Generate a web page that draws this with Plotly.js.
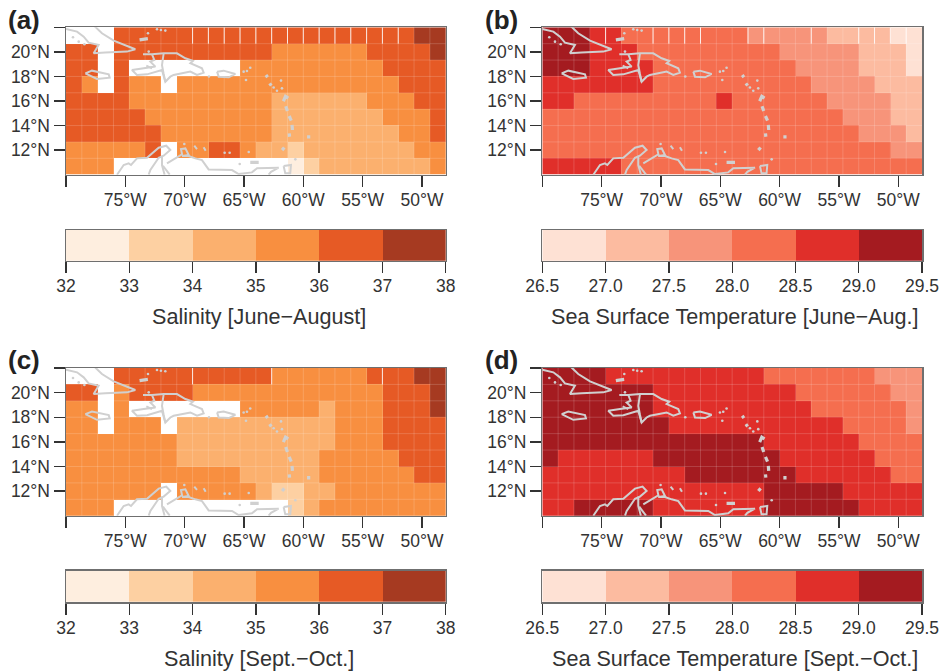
<!DOCTYPE html>
<html><head><meta charset="utf-8">
<script src="https://cdn.plot.ly/plotly-3.0.1.min.js"></script>
<style>html,body{margin:0;padding:0;background:#fff}</style></head>
<body><div id="chart" style="width:941px;height:671px"></div>
<script>
const N = null;
const salinityJJA = [
[N,N,N,36.5,36.5,36.5,36.5,36.5,36.5,36.5,36.5,36.5,36.5,36.5,36.5,36.5,36.5,36.5,36.5,36.5,36.5,36.5,37.5,37.5],
[36.5,36.5,N,36.5,36.5,36.5,36.5,36.5,36.5,36.5,36.5,36.5,36.5,35.5,35.5,35.5,35.5,35.5,35.5,36.5,36.5,36.5,36.5,37.5],
[36.5,36.5,N,36.5,N,N,N,N,N,N,N,35.5,35.5,35.5,35.5,35.5,35.5,35.5,35.5,35.5,36.5,36.5,36.5,36.5],
[36.5,35.5,N,36.5,35.5,35.5,N,35.5,35.5,35.5,35.5,35.5,35.5,35.5,35.5,35.5,35.5,35.5,35.5,35.5,35.5,36.5,36.5,36.5],
[36.5,36.5,36.5,36.5,35.5,35.5,35.5,35.5,35.5,35.5,35.5,35.5,35.5,34.5,34.5,34.5,34.5,34.5,34.5,35.5,35.5,35.5,36.5,36.5],
[36.5,36.5,36.5,36.5,36.5,35.5,35.5,35.5,35.5,35.5,35.5,35.5,35.5,34.5,34.5,34.5,34.5,34.5,34.5,34.5,35.5,35.5,35.5,36.5],
[36.5,36.5,36.5,36.5,36.5,36.5,35.5,35.5,35.5,35.5,35.5,35.5,35.5,34.5,34.5,34.5,34.5,34.5,34.5,34.5,34.5,35.5,35.5,36.5],
[35.5,35.5,35.5,35.5,35.5,36.5,N,35.5,35.5,36.5,36.5,35.5,34.5,34.5,33.5,34.5,34.5,34.5,34.5,34.5,34.5,34.5,35.5,35.5],
[35.5,35.5,35.5,N,N,N,N,N,N,N,N,N,N,N,32.5,33.5,34.5,34.5,34.5,34.5,34.5,34.5,34.5,35.5]
];
const salinitySO = [
[N,N,N,36.5,36.5,36.5,36.5,36.5,36.5,36.5,36.5,36.5,36.5,35.5,35.5,35.5,35.5,35.5,35.5,36.5,36.5,36.5,37.5,37.5],
[36.5,36.5,N,35.5,36.5,36.5,36.5,36.5,35.5,35.5,35.5,35.5,35.5,35.5,35.5,35.5,35.5,35.5,35.5,35.5,36.5,36.5,36.5,37.5],
[35.5,35.5,N,35.5,N,N,N,N,N,N,N,35.5,35.5,35.5,35.5,35.5,34.5,35.5,35.5,35.5,36.5,36.5,36.5,37.5],
[35.5,35.5,N,35.5,35.5,35.5,N,34.5,34.5,34.5,34.5,34.5,34.5,34.5,34.5,34.5,34.5,35.5,35.5,35.5,36.5,36.5,36.5,36.5],
[35.5,35.5,35.5,35.5,35.5,35.5,35.5,34.5,34.5,34.5,34.5,34.5,34.5,34.5,34.5,34.5,34.5,35.5,35.5,35.5,36.5,36.5,36.5,36.5],
[35.5,35.5,35.5,35.5,35.5,35.5,35.5,34.5,34.5,34.5,34.5,34.5,34.5,34.5,34.5,34.5,35.5,35.5,35.5,35.5,35.5,36.5,36.5,36.5],
[35.5,35.5,35.5,35.5,35.5,35.5,35.5,35.5,35.5,35.5,35.5,34.5,34.5,34.5,34.5,34.5,35.5,35.5,35.5,35.5,35.5,35.5,36.5,36.5],
[35.5,35.5,35.5,35.5,35.5,35.5,N,35.5,35.5,35.5,35.5,35.5,34.5,33.5,33.5,34.5,34.5,35.5,35.5,35.5,35.5,35.5,35.5,35.5],
[35.5,35.5,35.5,N,N,N,N,N,N,N,N,N,N,N,33.5,34.5,35.5,35.5,35.5,35.5,35.5,35.5,35.5,35.5]
];
const sstJJA = [
[29.25,29.25,29.25,28.75,28.75,28.25,28.25,28.25,28.25,28.25,28.25,28.25,28.25,27.75,27.75,27.75,27.75,27.75,27.25,27.25,27.25,27.25,26.75,26.75],
[29.25,29.25,29.25,28.75,28.75,28.75,28.25,28.25,28.25,28.25,28.25,28.25,28.25,28.25,28.25,27.75,27.75,27.75,27.75,27.75,27.25,27.25,27.25,26.75],
[29.25,29.25,29.25,28.75,28.75,28.75,28.75,28.25,28.25,28.25,28.25,28.25,28.25,28.25,28.25,28.25,27.75,27.75,27.75,27.75,27.25,27.25,27.25,26.75],
[28.75,28.75,28.75,28.75,28.75,28.75,28.75,28.25,28.25,28.25,28.25,28.25,28.25,28.25,28.25,28.25,28.25,27.75,27.75,27.75,27.75,27.25,27.25,27.25],
[28.75,28.75,28.25,28.25,28.25,28.25,28.25,28.25,28.25,28.25,28.25,28.75,28.25,28.25,28.25,28.25,28.25,28.25,27.75,27.75,27.75,27.75,27.25,27.25],
[28.25,28.25,28.25,28.25,28.25,28.25,28.25,28.25,28.25,28.25,28.25,28.25,28.25,28.25,28.25,28.25,28.25,28.25,28.25,27.75,27.75,27.75,27.25,27.25],
[28.25,28.25,28.25,28.25,28.25,28.25,28.25,28.25,28.25,28.25,28.25,28.25,28.25,28.25,28.25,28.25,28.25,28.25,28.25,28.25,27.75,27.75,27.75,27.25],
[28.25,28.25,28.25,28.25,28.25,28.25,28.25,28.25,28.25,28.25,28.25,28.25,28.25,28.25,28.25,28.25,28.25,28.25,28.25,28.25,28.25,28.25,27.75,27.75],
[28.75,28.75,28.75,28.75,28.75,28.25,28.25,28.25,28.25,28.25,28.25,28.25,28.25,28.25,28.25,28.25,28.25,28.25,28.25,28.25,28.25,28.25,28.25,28.25]
];
const sstSO = [
[29.25,29.25,29.25,29.25,28.75,28.75,28.75,28.75,28.75,28.75,28.75,28.75,28.75,28.75,28.25,28.25,28.25,28.25,28.25,28.25,28.25,27.75,27.75,27.75],
[29.25,29.25,29.25,29.25,29.25,29.25,29.25,28.75,28.75,28.75,28.75,28.75,28.75,28.75,28.75,28.75,28.25,28.25,28.25,28.25,28.25,28.25,27.75,27.75],
[29.25,29.25,29.25,29.25,29.25,29.25,29.25,28.75,28.75,28.75,28.75,28.75,28.75,28.75,28.75,28.75,28.75,28.25,28.25,28.25,28.25,28.25,28.25,27.75],
[29.25,29.25,29.25,29.25,29.25,29.25,29.25,29.25,28.75,28.75,28.75,28.75,28.75,28.75,28.75,28.75,28.75,28.75,28.75,28.25,28.25,28.25,28.25,27.75],
[29.25,29.25,29.25,29.25,29.25,29.25,29.25,29.25,29.25,29.25,29.25,29.25,29.25,29.25,28.75,28.75,28.75,28.75,28.75,28.75,28.25,28.25,28.25,28.25],
[29.25,28.75,28.75,28.75,28.75,28.75,28.75,29.25,29.25,29.25,29.25,29.25,29.25,29.25,29.25,28.75,28.75,28.75,28.75,28.75,28.75,28.25,28.25,28.25],
[28.75,28.75,28.75,28.75,28.75,28.75,28.75,28.75,28.75,29.25,29.25,29.25,29.25,29.25,29.25,29.25,28.75,28.75,28.75,28.75,28.75,28.75,28.25,28.25],
[28.75,28.75,28.75,28.75,28.75,28.75,28.75,28.75,28.75,28.75,28.75,28.75,28.75,28.75,29.25,29.25,29.25,29.25,29.25,28.75,28.75,28.75,28.75,28.75],
[28.75,28.75,29.25,29.25,29.25,29.25,29.25,28.75,28.75,28.75,28.75,28.75,28.75,28.75,29.25,29.25,29.25,29.25,29.25,29.25,28.75,28.75,28.75,28.75]
];
const orangeColors = ['#FEEEDF','#FDD0A2','#FBB06E','#F88F40','#E65A25','#A63A21'];
const redColors = ['#FEE1D4','#FCBBA0','#F7947A','#F56E4F','#E02F2A','#A41B20'];
const salinityTicks = [32,33,34,35,36,37,38];
const sstTicks = [26.5,27,27.5,28,28.5,29,29.5];
const lonTicks = [-80,-75,-70,-65,-60,-55,-50];
const lonLabels = ['','75°W','70°W','65°W','60°W','55°W','50°W'];
const latTicks = [12,14,16,18,20,22];
const latLabels = ['12°N','14°N','16°N','18°N','20°N',''];
const panelLetters = ['(a)','(b)','(c)','(d)'];
const barTitles = ['Salinity [June\u2212August]','Sea Surface Temperature [June\u2212Aug.]','Salinity [Sept.\u2212Oct.]','Sea Surface Temperature [Sept.\u2212Oct.]'];
// column edges whose seam reads bright white in the top row of each panel
const brightSeams = [
 [8,9,10,11,12,13,14,15,16,17,18,19,20,21],
 [4,7,8,9,10,13,14,17,20,21,22,23],
 [8,13,20],
 []
];
// coastlines, lon / lat
const coastLines = [
 [[-80,-79.07,-78.51,-78.09,-77.25,-77.67,-76.69,-74.86,-74.16,-75.56,-75.98,-76.97,-77.39,-77.6],[21.86,21.65,21.24,20.75,20.56,19.88,19.94,20.02,20.21,20.75,20.91,21.51,21.92,22.1]],
 [[-78.37,-77.81,-76.40,-76.32,-77.39,-78.37],[18.25,18.47,18.17,17.90,17.79,18.25]],
 [[-73.51,-72.75,-71.77,-70.65,-69.94,-69.30,-69.52,-68.54,-68.40,-68.96,-69.52,-70.51,-70.93,-71.21,-71.63,-71.91,-73.17,-74.02,-74.44,-73.45,-72.47,-72.89,-72.56,-72.75],[19.80,19.80,19.88,19.88,19.48,19.26,19.07,18.66,18.31,18.12,18.39,18.20,18.12,17.98,17.57,18.52,18.17,18.12,18.52,18.66,18.80,19.20,19.34,19.80]],
 [[-71.77,-71.91,-71.77,-71.63],[19.88,18.92,18.2,17.57]],
 [[-73.23,-72.75],[18.88,18.66]],
 [[-67.27,-66.72,-65.73,-66.28,-67.13,-67.27],[18.39,18.47,18.2,17.93,17.98,18.39]],
 [[-75.70,-75.14,-74.72,-74.52,-74.02,-73.17,-72.19,-71.55,-71.21,-71.77,-72.19,-72.89,-73.03],[10.0,10.79,10.92,10.79,11.33,11.38,12.20,12.36,12.01,11.55,11.38,10.38,10.0]],
 [[-71.91,-71.91,-71.69],[11.55,10.79,10.0]],
 [[-71.83,-71.26],[10.73,10.0]],
 [[-71.49,-70.51,-70.22,-70.31,-69.94,-69.66,-70.22],[10.92,11.47,11.66,12.09,12.14,11.6,11.52]],
 [[-70.22,-69.66,-69.10,-68.54,-67.98,-66.01,-65.45,-64.33,-63.90,-62.08,-62.72,-62.92],[11.52,11.52,11.33,11.19,10.43,10.38,10.05,10.19,10.52,10.57,10.24,10.0]],
 [[-61.66,-61.04,-61.10,-61.52,-61.66],[10.71,10.79,10.11,10.11,10.71]],
 [[-69.19,-68.96],[12.36,12.09]],
 [[-68.40,-68.23],[12.23,11.95]]
];
// small islands drawn as short thick strokes
const islandStrokes = [
 [[-73.8,-73.1],[20.98,21.08]],
 [[-64.47,-63.76],[11.0,11.0]],
 [[-61.68,-61.50,-61.27],[15.98,16.38,16.24]],
 [[-61.48,-61.34],[15.58,15.18]],
 [[-61.19,-61.02],[14.78,14.40]],
 [[-60.95,-60.92],[14.05,13.64]],
 [[-61.19,-61.16],[13.36,13.09]],
 [[-59.55,-59.55],[13.22,12.95]],
 [[-61.79,-61.60],[12.0,12.22]],
 [[-63.15,-63.01],[18.12,17.93]],
 [[-62.84,-62.70],[17.44,17.25]]
];
const islandLons = [-79.41,-78.93,-78.45,-73.09,-72.33,-72.0,-71.63,-73.03,-65.03,-64.75,-64.47,-64.83,-62.5,-61.88,-61.80,-62.22,-60.67,-70.03,-66.63,-66.21,-64.6,-65.36,-67.95];
const islandLats = [21.19,20.83,20.62,21.51,21.84,21.78,21.73,20.02,18.39,18.44,18.71,17.71,17.1,17.66,17.03,16.84,11.25,12.5,11.79,11.79,11.85,10.87,18.0];

const W=941,H=671;
const maps = [
 {z:salinityJJA,colors:orangeColors,t:salinityTicks,x0:66,x1:445.7,y0:27.3,y1:174.7,by0:230,by1:260.7,ty:317,fmt:'d'},
 {z:sstJJA,colors:redColors,t:sstTicks,x0:542.3,x1:922,y0:27.3,y1:174.7,by0:230,by1:260.7,ty:317,fmt:'.1f'},
 {z:salinitySO,colors:orangeColors,t:salinityTicks,x0:66,x1:445.7,y0:368,y1:515.7,by0:570.7,by1:602,ty:658,fmt:'d'},
 {z:sstSO,colors:redColors,t:sstTicks,x0:542.3,x1:922,y0:368,y1:515.7,by0:570.7,by1:602,ty:658,fmt:'.1f'}
];
const lonEdges=[],latEdges=[];
for(let i=0;i<=24;i++)lonEdges.push(-80+i*4/3);
for(let j=0;j<=9;j++)latEdges.push(22-j*4/3);
const INK='#333333',EDGE='#6f6f6f',LAND='#d0d0d0',font='"Liberation Sans",Arial,sans-serif';
function stepped(c){const s=[];c.forEach((k,i)=>{s.push([i/c.length,k]);s.push([(i+1)/c.length,k]);});return s;}
const data=[];
const layout={width:W,height:H,margin:{l:0,r:0,t:0,b:0},paper_bgcolor:'#fff',plot_bgcolor:'#fff',showlegend:false,
 font:{family:font,size:17.5,color:INK},annotations:[]};
maps.forEach((m,i)=>{
 const a=i*2+1,b=i*2+2;
 const xa='x'+a,ya='y'+a,xb='x'+b,yb='y'+b;
 const dom=(p,q)=>[p/W,q/W],vdom=(p,q)=>[1-q/H,1-p/H];
 const zmin=m.t[0],zmax=m.t[m.t.length-1];
 const common={type:'heatmap',colorscale:stepped(m.colors),zmin:zmin,zmax:zmax,showscale:false,hoverinfo:'skip'};
 data.push(Object.assign({},common,{x:lonEdges,y:latEdges,z:m.z,xaxis:xa,yaxis:ya}));
 // faint cell seams
 const gx=[],gy=[];
 lonEdges.slice(1,-1).forEach(v=>{gx.push(v,v,null);gy.push(10,22,null);});
 latEdges.slice(1,-1).forEach(v=>{gx.push(-80,-48,null);gy.push(v,v,null);});
 data.push({type:'scatter',mode:'lines',x:gx,y:gy,xaxis:xa,yaxis:ya,line:{color:'rgba(255,255,255,0.17)',width:1},hoverinfo:'skip'});
 const bx=[],by=[];
 brightSeams[i].forEach(k=>{bx.push(lonEdges[k],lonEdges[k],null);by.push(latEdges[1],latEdges[0],null);});
 if(bx.length)data.push({type:'scatter',mode:'lines',x:bx,y:by,xaxis:xa,yaxis:ya,line:{color:'rgba(255,255,255,0.85)',width:1},hoverinfo:'skip'});
 coastLines.forEach(c=>data.push({type:'scatter',mode:'lines',x:c[0],y:c[1],xaxis:xa,yaxis:ya,line:{color:LAND,width:2},hoverinfo:'skip'}));
 islandStrokes.forEach(c=>data.push({type:'scatter',mode:'lines',x:c[0],y:c[1],xaxis:xa,yaxis:ya,line:{color:LAND,width:3.2},hoverinfo:'skip'}));
 data.push({type:'scatter',mode:'markers',x:islandLons,y:islandLats,xaxis:xa,yaxis:ya,marker:{color:LAND,size:2.6,line:{width:0}},hoverinfo:'skip'});
 // colour bar
 const centers=m.t.slice(0,-1).map((v,k)=>(v+m.t[k+1])/2);
 data.push(Object.assign({},common,{x:m.t,y:[0,1],z:[centers],xaxis:xb,yaxis:yb}));
 const ax={showgrid:false,zeroline:false,showline:true,mirror:true,linecolor:EDGE,linewidth:1.5,ticks:'outside',ticklen:11,tickwidth:1.3,tickcolor:INK,tickfont:{family:font,size:17.5,color:INK}};
 layout['xaxis'+a]=Object.assign({},ax,{domain:dom(m.x0,m.x1),range:[-80,-48],anchor:ya,tickmode:'array',tickvals:lonTicks,ticktext:lonLabels,ticklabelstandoff:-2});
 layout['yaxis'+a]=Object.assign({},ax,{domain:vdom(m.y0,m.y1),range:[10,22],anchor:xa,tickmode:'array',tickvals:latTicks,ticktext:latLabels});
 layout['xaxis'+b]=Object.assign({},ax,{domain:dom(m.x0,m.x1),range:[zmin,zmax],anchor:yb,tickmode:'array',tickvals:m.t,tickformat:m.fmt,ticklabelstandoff:-2});
 layout['yaxis'+b]=Object.assign({},ax,{domain:vdom(m.by0,m.by1),range:[0,1],anchor:xb,ticks:'',showticklabels:false});
 layout.annotations.push({xref:'paper',yref:'paper',x:((m.x0+m.x1)/2+3)/W,y:1-m.ty/H,xanchor:'center',yanchor:'middle',showarrow:false,text:barTitles[i],font:{family:font,size:21.6,color:INK}});
 layout.annotations.push({xref:'paper',yref:'paper',x:(i%2?483:6)/W,y:1-(m.y0-7.5)/H,xanchor:'left',yanchor:'middle',showarrow:false,text:'<b>'+panelLetters[i]+'</b>',font:{family:font,size:26,color:'#222'}});
});
Plotly.newPlot('chart',data,layout,{displayModeBar:false,staticPlot:true});
</script></body></html>
